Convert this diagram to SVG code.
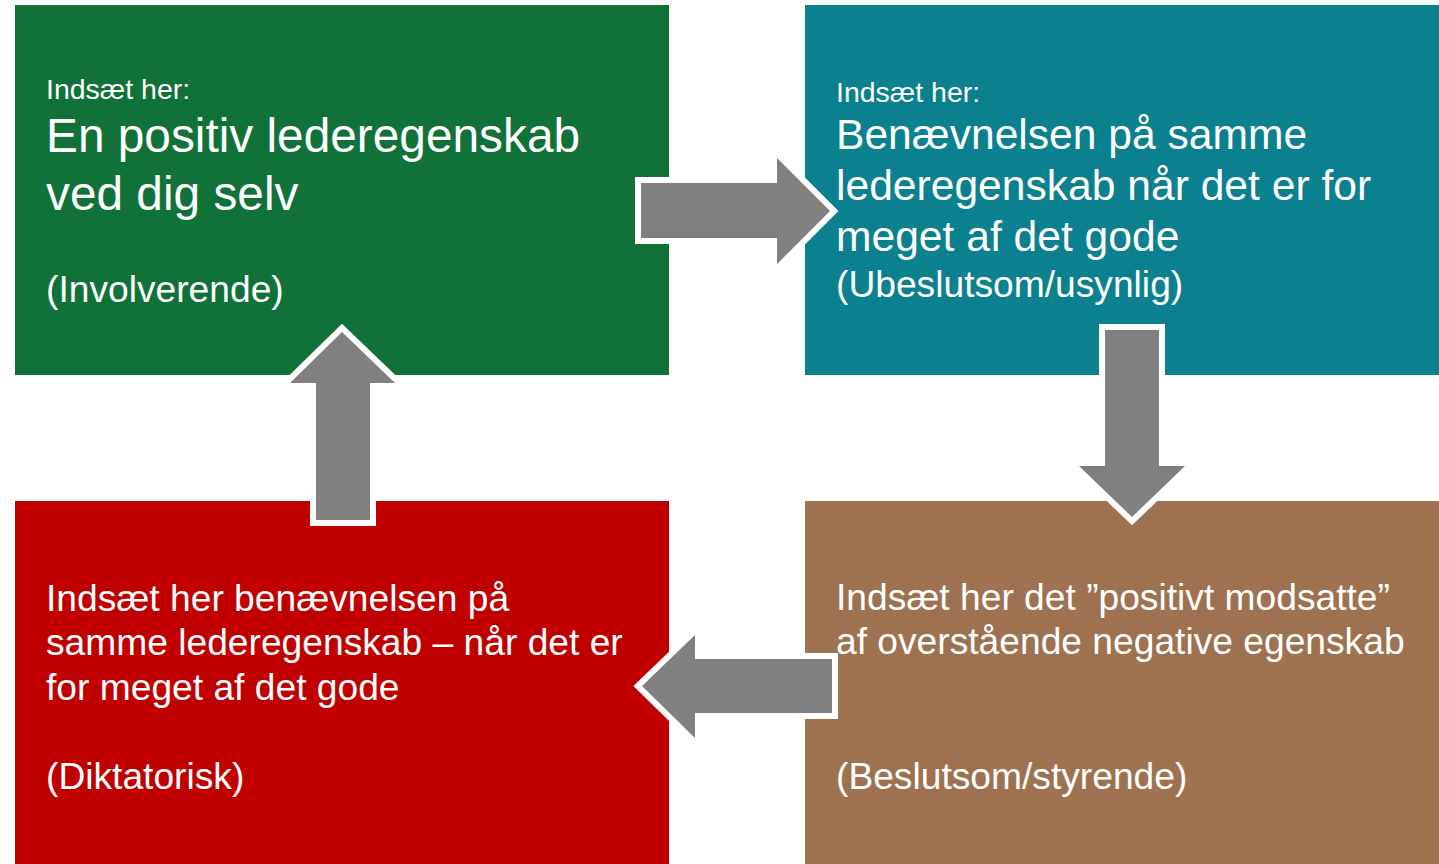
<svg xmlns="http://www.w3.org/2000/svg" width="1439" height="864" viewBox="0 0 1439 864">
<style>
text{font-family:"Liberation Sans",Arial,sans-serif;fill:#ffffff}
.s{font-size:28.5px}
.m{font-size:37.2px}
.arrow{fill:#808080;stroke:#ffffff;stroke-width:12;stroke-linejoin:miter;paint-order:stroke}
</style>
<rect width="1439" height="864" fill="#ffffff"/>
<g id="node-green">
<rect x="15" y="5" width="654" height="370" fill="#107238"/>
<text class="s" x="46" y="99">Indsæt her:</text>
<text x="46" y="152" style="font-size:47.8px">En positiv lederegenskab</text>
<text x="46" y="210" style="font-size:47.8px">ved dig selv</text>
<text class="m" x="46" y="302">(Involverende)</text>
</g>
<g id="node-teal">
<rect x="805" y="5" width="634" height="370" fill="#0B808F"/>
<text class="s" x="836" y="102">Indsæt her:</text>
<text x="836" y="149" style="font-size:42.6px">Benævnelsen på samme</text>
<text x="836" y="200" style="font-size:42.6px">lederegenskab når det er for</text>
<text x="836" y="251" style="font-size:42.6px">meget af det gode</text>
<text class="m" x="836" y="297">(Ubeslutsom/usynlig)</text>
</g>
<g id="node-red">
<rect x="15" y="501" width="654" height="363" fill="#C00000"/>
<text class="m" x="46" y="611">Indsæt her benævnelsen på</text>
<text class="m" x="46" y="655">samme lederegenskab – når det er</text>
<text class="m" x="46" y="700">for meget af det gode</text>
<text class="m" x="46" y="789">(Diktatorisk)</text>
</g>
<g id="node-brown">
<rect x="805" y="501" width="634" height="363" fill="#9E7250"/>
<text class="m" x="836" y="610">Indsæt her det ”positivt modsatte”</text>
<text class="m" x="836" y="654">af overstående negative egenskab</text>
<text class="m" x="836" y="789">(Beslutsom/styrende)</text>
</g>
<g id="connectors">
<polygon class="arrow" points="641,183 777,183 777,158 830,211 777,264 777,238 641,238"/>
<polygon class="arrow" points="1105,330 1159,330 1159,466 1185,466 1132,517 1079,466 1105,466"/>
<polygon class="arrow" points="832,659 832,713 695,713 695,738 642,686 695,635 695,659"/>
<polygon class="arrow" points="316,520 316,383 290,383 342,332 395,383 370,383 370,520"/>
</g>
</svg>
